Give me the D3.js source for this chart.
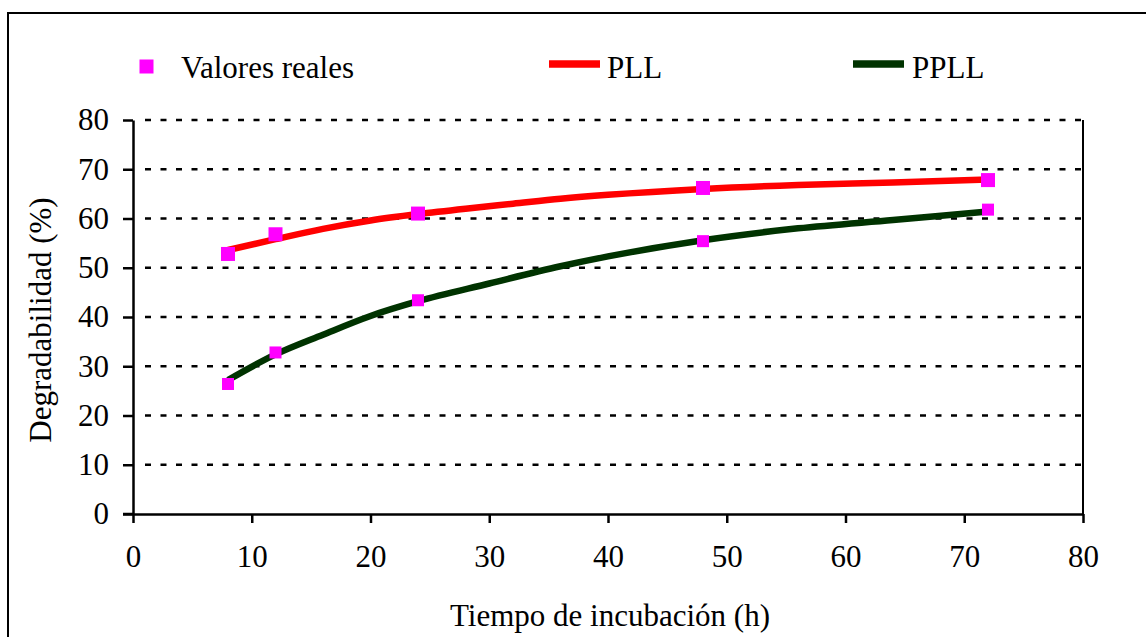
<!DOCTYPE html>
<html>
<head>
<meta charset="utf-8">
<script src="https://cdn.jsdelivr.net/npm/d3@7"></script>
<style>
body{margin:0;background:#fff}
text{font-family:"Liberation Serif","Times New Roman",serif;fill:#000}
</style>
</head>
<body>
<script>
// valores reales (puntos)
var hours = [8, 12, 24, 48, 72]
var pllReal = [52.8, 56.8, 61, 66.2, 67.8]
var ppllReal = [26.4, 32.8, 43.4, 55.4, 61.8]

// curvas ajustadas
var pllHours = [8, 12, 16, 20, 24, 28, 32, 36, 40, 48, 56, 64, 72]
var pllFit = [53.6, 55.8, 57.9, 59.6, 60.9, 62, 63, 64, 64.8, 66, 66.8, 67.3, 67.9]
var ppllHours = [8, 12, 16, 20, 24, 30, 36, 40, 48, 56, 64, 72]
var ppllFit = [27.2, 32.4, 36.4, 40.2, 43.2, 46.8, 50.3, 52.3, 55.6, 58, 59.7, 61.4]

var xTicks = [0, 10, 20, 30, 40, 50, 60, 70, 80]
var yTicks = [0, 10, 20, 30, 40, 50, 60, 70, 80]

var width = 1146, height = 637
var mLeft = 133, mRight = 1083, mTop = 120, mBottom = 514
var fs = "31px"

var svg = d3.select("body").append("svg")
	.attr("width", width)
	.attr("height", height)

// marco exterior
svg.append("rect").attr("x", 8).attr("y", 13).attr("width", 1160).attr("height", 700)
	.attr("fill", "none").attr("stroke", "#000").attr("stroke-width", 2)

var x = d3.scaleLinear().domain([0, 80]).range([mLeft, mRight])
var y = d3.scaleLinear().domain([0, 80]).range([mBottom, mTop])

// lineas de cuadricula
svg.append("g").selectAll("line")
	.data(yTicks.filter(function(d){ return d > 0 }))
	.enter().append("line")
	.attr("x1", mLeft + 12).attr("x2", mRight - 2)
	.attr("y1", function(d){ return y(d) }).attr("y2", function(d){ return y(d) })
	.attr("stroke", "#000").attr("stroke-width", 2.5)
	.attr("stroke-dasharray", "6,9.5")

// borde derecho
svg.append("line").attr("x1", mRight).attr("x2", mRight).attr("y1", mTop).attr("y2", mBottom)
	.attr("stroke", "#000").attr("stroke-width", 2)

var yAxis = svg.append("g").attr("transform", "translate(" + mLeft + ",0)")
	.call(d3.axisLeft(y).tickValues(yTicks).tickSizeInner(10).tickSizeOuter(0).tickPadding(14))
var xAxis = svg.append("g").attr("transform", "translate(0," + mBottom + ")")
	.call(d3.axisBottom(x).tickValues(xTicks).tickSizeInner(9).tickSizeOuter(0).tickPadding(22))

;[yAxis, xAxis].forEach(function(a){
	a.select(".domain").attr("stroke", "#000").attr("stroke-width", 2.5)
	a.selectAll(".tick line").attr("stroke", "#000").attr("stroke-width", 2.5)
	a.selectAll(".tick text").style("font-size", fs).attr("fill", "#000")
})
// prolongar el eje x hacia la izquierda
svg.append("line").attr("x1", mLeft - 10).attr("x2", mLeft).attr("y1", mBottom).attr("y2", mBottom)
	.attr("stroke", "#000").attr("stroke-width", 2.5)

var line = d3.line()
	.x(function(d){ return x(d[0]) })
	.y(function(d){ return y(d[1]) })
	.curve(d3.curveMonotoneX)

svg.append("path").datum(d3.zip(ppllHours, ppllFit))
	.attr("d", line).attr("fill", "none")
	.attr("stroke", "#003300").attr("stroke-width", 6.5)
svg.append("path").datum(d3.zip(pllHours, pllFit))
	.attr("d", line).attr("fill", "none")
	.attr("stroke", "#ff0000").attr("stroke-width", 6.5)

function drawPoints(vals, size){
	svg.append("g").selectAll("rect")
		.data(d3.zip(hours, vals))
		.enter().append("rect")
		.attr("x", function(d){ return x(d[0]) - size / 2 })
		.attr("y", function(d){ return y(d[1]) - size / 2 })
		.attr("width", size).attr("height", size)
		.attr("fill", "#ff00ff")
}
drawPoints(pllReal, 14)
drawPoints(ppllReal, 12)

// leyenda
var legend = svg.append("g")
legend.append("rect").attr("x", 139.5).attr("y", 59.5).attr("width", 14).attr("height", 14).attr("fill", "#ff00ff")
legend.append("text").attr("x", 181).attr("y", 78).style("font-size", fs).text("Valores reales")
legend.append("line").attr("x1", 549).attr("x2", 600).attr("y1", 64).attr("y2", 64)
	.attr("stroke", "#ff0000").attr("stroke-width", 7.5)
legend.append("text").attr("x", 607).attr("y", 78).style("font-size", fs).text("PLL")
legend.append("line").attr("x1", 853).attr("x2", 904).attr("y1", 64).attr("y2", 64)
	.attr("stroke", "#003300").attr("stroke-width", 7.5)
legend.append("text").attr("x", 912).attr("y", 78).style("font-size", fs).text("PPLL")

// titulos de los ejes
svg.append("text").attr("x", 610).attr("y", 626).attr("text-anchor", "middle")
	.style("font-size", fs).text("Tiempo de incubación (h)")
svg.append("text").attr("transform", "translate(51,320) rotate(-90)").attr("text-anchor", "middle")
	.style("font-size", fs).text("Degradabilidad (%)")
</script>
</body>
</html>
